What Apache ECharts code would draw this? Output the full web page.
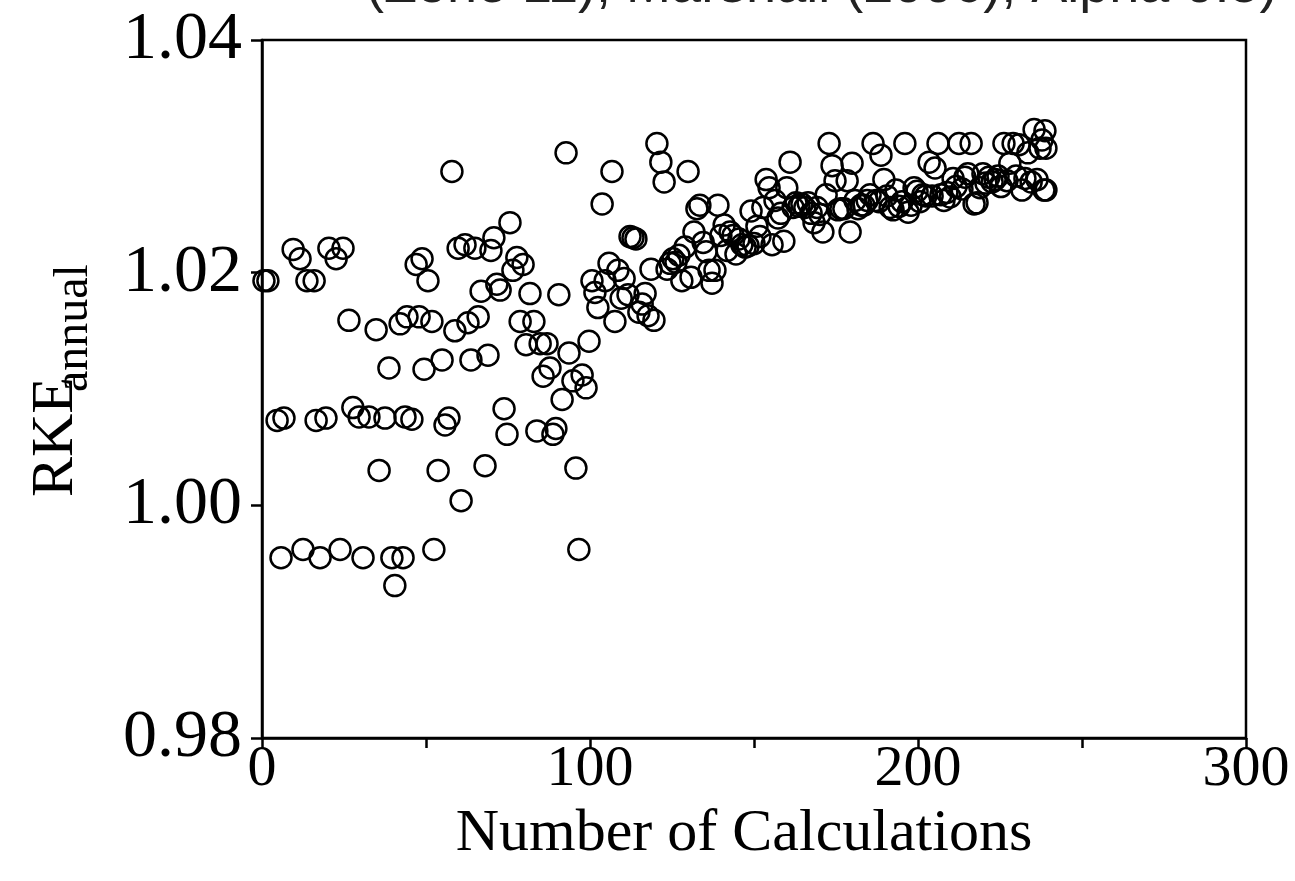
<!DOCTYPE html>
<html>
<head>
<meta charset="utf-8">
<script src="https://cdn.jsdelivr.net/npm/echarts@6/dist/echarts.min.js"></script>
<style>
html,body{margin:0;padding:0;background:#fff;}
#chart{width:1295px;height:881px;}
</style>
</head>
<body>
<div id="chart"></div>
<script>
// ---- data ----
var titleText = '(Zone 11), Marshall (2006), Alpha 0.5)';
var xTitle = 'Number of Calculations';
var xTicks = [0, 100, 200, 300];
var yTicks = [0.98, 1.00, 1.02, 1.04];

var pointsEarly = [
 [0.6,1.0193],[1.8,1.0193],[4.6,1.0073],[6.7,1.0075],[5.8,0.9955],[9.5,1.0220],[11.6,1.0212],[13.7,1.0193],
 [15.9,1.0193],[12.5,0.9962],[16.5,1.0073],[19.5,1.0075],[17.7,0.9955],[20.4,1.0221],[22.6,1.0212],[24.7,1.0221],
 [23.8,0.9962],[26.5,1.0159],[27.7,1.0084],[29.6,1.0076],[30.8,0.9955],[32.6,1.0076],[34.8,1.0151],[35.7,1.0030],
 [37.5,1.0075],[38.7,1.0118],[39.6,0.9955],[40.5,0.9931],[42.1,1.0156],[43.0,0.9955],[43.6,1.0076],[44.2,1.0162],
 [45.7,1.0074],[47.0,1.0207],[47.9,1.0162],[48.8,1.0212],[49.4,1.0117],[50.6,1.0193],[51.8,1.0158],[52.4,0.9962],
 [53.7,1.0030],[54.9,1.0125],[55.8,1.0069],[57.0,1.0075],[57.9,1.0287],[58.8,1.0150],[59.8,1.0221],[60.7,1.0004],
 [61.9,1.0224],[62.8,1.0157],[63.7,1.0125],[64.9,1.0221],[65.9,1.0162],[66.8,1.0184],[68.0,1.0034],[68.9,1.0129],
 [69.8,1.0219],[70.7,1.0230],[71.6,1.0190],[72.6,1.0185],[73.8,1.0083],[74.7,1.0061],[75.6,1.0243],[76.5,1.0202],
 [77.7,1.0213],[78.7,1.0158],[79.6,1.0207],[80.5,1.0138],[81.7,1.0182],[82.9,1.0158],[83.8,1.0064],[84.8,1.0139],
 [85.7,1.0111],[86.9,1.0139],[87.8,1.0118],[88.7,1.0061],[89.6,1.0066],[90.5,1.0181],[91.5,1.0091],[92.7,1.0303],
 [93.6,1.0131],[94.8,1.0107],[95.7,1.0032],[96.6,0.9962],[97.6,1.0112],[98.8,1.0101],[99.7,1.0141]
];
var pointsMid = [
 [100.6,1.0193],[101.5,1.0183],[102.4,1.0170],[103.7,1.0259],[104.6,1.0193],[105.8,1.0208],[106.7,1.0287],[107.6,1.0158],
 [108.5,1.0202],[109.5,1.0178],[110.4,1.0195],[111.6,1.0181],[112.2,1.0231],[113.1,1.0230],[114.0,1.0229],[114.9,1.0166],
 [115.9,1.0173],[116.8,1.0182],[117.7,1.0163],[118.6,1.0203],[119.5,1.0159],[120.4,1.0311],[121.6,1.0295],[122.6,1.0278],
 [123.5,1.0203],[124.4,1.0208],[125.3,1.0212],[126.2,1.0209],[127.1,1.0215],[128.0,1.0193],[129.0,1.0222],[129.9,1.0287],
 [130.8,1.0196],[131.7,1.0235],[132.6,1.0255],[133.5,1.0258],[134.5,1.0226],[135.4,1.0218],[136.3,1.0202],[137.2,1.0191],
 [138.1,1.0202],[139.0,1.0258],[139.9,1.0232],[140.9,1.0241],[141.8,1.0219],[142.7,1.0235],[143.6,1.0232],[144.5,1.0216],
 [145.4,1.0229],[146.3,1.0224],[147.3,1.0222],[148.2,1.0223],[149.1,1.0253],[150.0,1.0225],[150.9,1.0240],[151.8,1.0231],
 [152.7,1.0256],[153.7,1.0280],[154.6,1.0273],[155.5,1.0224],[156.4,1.0262],[157.3,1.0247],[158.2,1.0251],[159.1,1.0227],
 [160.0,1.0273],[161.0,1.0295],[161.9,1.0256],[162.8,1.0260],[163.7,1.0257],[164.6,1.0259],[165.5,1.0256],[166.5,1.0260],
 [167.4,1.0251],[168.3,1.0243],[169.2,1.0256]
];
var pointsLate = [
 [170.1,1.0250],[171.0,1.0235],[172.0,1.0267],[172.9,1.0311],[173.8,1.0292],[174.7,1.0279],[175.6,1.0254],[176.5,1.0255],
 [177.4,1.0255],[178.4,1.0279],[179.3,1.0235],[179.9,1.0294],[180.8,1.0262],[181.7,1.0255],[182.6,1.0258],[183.5,1.0258],
 [184.5,1.0262],[185.4,1.0267],[186.3,1.0311],[187.2,1.0262],[188.1,1.0261],[188.7,1.0301],[189.6,1.0280],[190.5,1.0266],
 [191.5,1.0256],[192.4,1.0254],[193.3,1.0271],[194.2,1.0257],[195.1,1.0261],[196.0,1.0311],[197.0,1.0252],[197.9,1.0258],
 [198.8,1.0273],[199.7,1.0270],[200.6,1.0261],[201.5,1.0267],[202.4,1.0266],[203.4,1.0295],[204.3,1.0266],[205.2,1.0290],
 [206.1,1.0311],[207.0,1.0267],[207.9,1.0262],[208.8,1.0269],[209.8,1.0265],[210.7,1.0281],[211.6,1.0274],[212.5,1.0311],
 [213.4,1.0272],[214.3,1.0282],[215.2,1.0285],[216.2,1.0311],[217.1,1.0259],[218.0,1.0260],[218.9,1.0273],[219.8,1.0285],
 [220.7,1.0277],[221.6,1.0282],[222.6,1.0278],[223.5,1.0280],[224.4,1.0283],[225.3,1.0274],[226.2,1.0311],[227.1,1.0279],
 [228.0,1.0294],[229.0,1.0311],[229.9,1.0283],[230.8,1.0310],[231.7,1.0271],[232.6,1.0281],[233.5,1.0303],[234.5,1.0278],
 [235.4,1.0323],[236.3,1.0280],[237.2,1.0307],[237.8,1.0314],[238.4,1.0271],[238.7,1.0322],[239.0,1.0307],[239.0,1.0271]
];

var allPoints = pointsEarly.concat(pointsMid, pointsLate);

var chart = echarts.init(document.getElementById('chart'), null, {renderer: 'canvas'});
var serif = '"Liberation Serif", "Times New Roman", serif';
var sans = '"Liberation Sans", Arial, sans-serif';

var option = {
  backgroundColor: '#fff',
  animation: false,
  grid: {left: 262, right: 49, top: 40, bottom: 143, show: true, borderColor: '#000', borderWidth: 2.5, backgroundColor: 'transparent'},
  xAxis: {
    type: 'value', min: 0, max: 300, interval: 50,
    axisLine: {show: true, onZero: false, lineStyle: {color: '#000', width: 2.5}},
    axisTick: {show: true, inside: false, length: 10, lineStyle: {color: '#000', width: 2.5}},
    splitLine: {show: false},
    axisLabel: {
      color: '#000', fontFamily: serif, fontSize: 58, margin: 3,
      formatter: function (v) { return xTicks.indexOf(v) >= 0 ? String(v) : ''; }
    },
    name: xTitle, nameLocation: 'middle', nameGap: 48,
    nameTextStyle: {color: '#000', fontFamily: serif, fontSize: 60, padding: [0, 20, 0, 0]}
  },
  yAxis: {
    type: 'value', min: 0.98, max: 1.04, interval: 0.02,
    axisLine: {show: true, onZero: false, lineStyle: {color: '#000', width: 2.5}},
    axisTick: {show: true, inside: false, length: 11, lineStyle: {color: '#000', width: 2.5}},
    splitLine: {show: false},
    axisLabel: {
      color: '#000', fontFamily: serif, fontSize: 68, margin: 20,
      formatter: function (v) {
        for (var i = 0; i < yTicks.length; i++) { if (Math.abs(yTicks[i] - v) < 1e-9) return yTicks[i].toFixed(2); }
        return '';
      }
    }
  },
  graphic: [
    {
      type: 'text', left: 366, top: -40, silent: true,
      style: {text: titleText, font: '54px ' + sans, fill: '#222'}
    },
    {
      type: 'group', x: 86, y: 497, rotation: Math.PI / 2, silent: true,
      children: [
        {type: 'text', x: 0, y: 0, style: {text: 'RKE', font: '60px ' + serif, fill: '#000', textAlign: 'left', textVerticalAlign: 'bottom'}},
        {type: 'text', x: 105, y: 12, style: {text: 'annual', font: '48px ' + serif, fill: '#000', textAlign: 'left', textVerticalAlign: 'bottom'}}
      ]
    }
  ],
  series: [{
    type: 'scatter',
    data: allPoints,
    symbol: 'circle',
    symbolSize: 21,
    itemStyle: {color: 'rgba(0,0,0,0)', borderColor: '#000', borderWidth: 2.5, opacity: 1},
    emphasis: {disabled: true}
  }]
};
chart.setOption(option);
</script>
</body>
</html>
